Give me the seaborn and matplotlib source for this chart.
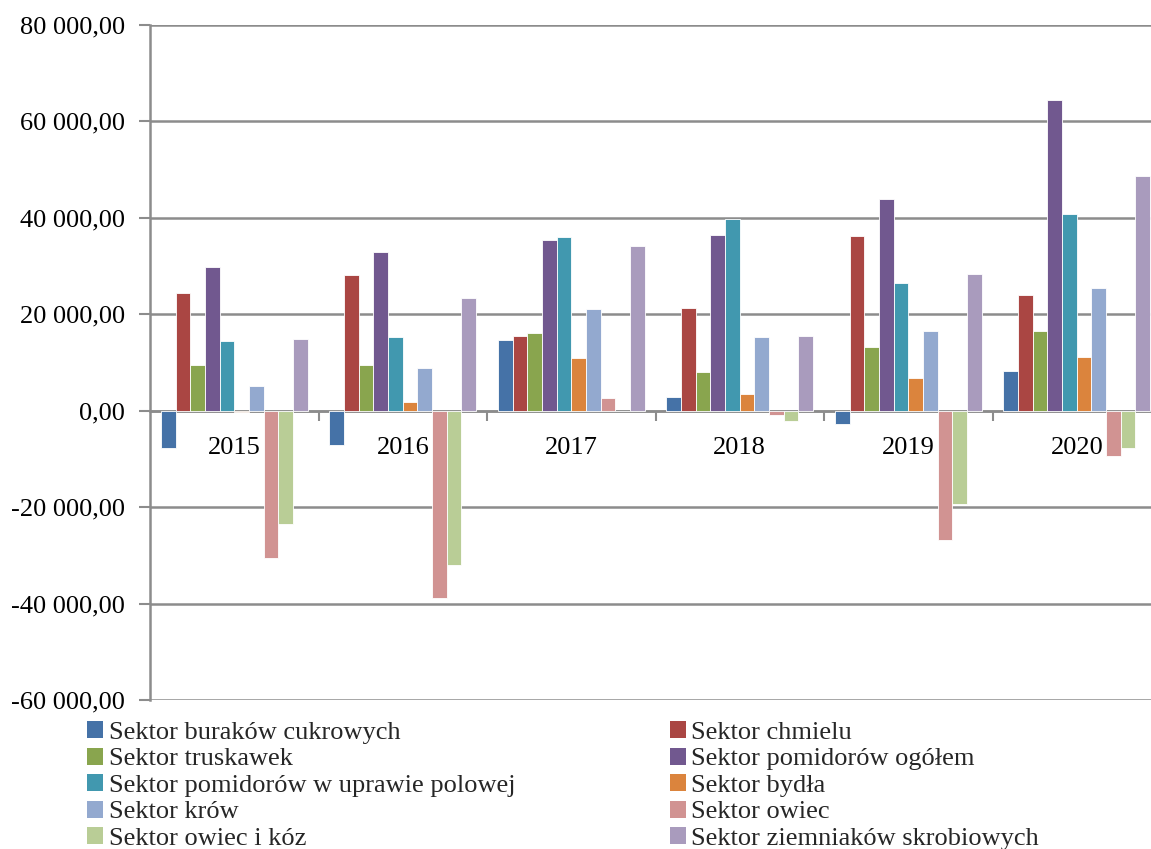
import matplotlib
matplotlib.use("Agg")
import matplotlib.pyplot as plt
import numpy as np
import pandas as pd
import seaborn as sns
from matplotlib.patches import Patch
from matplotlib.ticker import FixedLocator, FixedFormatter, FuncFormatter, NullFormatter

# --- data -------------------------------------------------------------------
years = ["2015", "2016", "2017", "2018", "2019", "2020"]

sectors = [
    "Sektor buraków cukrowych",
    "Sektor chmielu",
    "Sektor truskawek",
    "Sektor pomidorów ogółem",
    "Sektor pomidorów w uprawie polowej",
    "Sektor bydła",
    "Sektor krów",
    "Sektor owiec",
    "Sektor owiec i kóz",
    "Sektor ziemniaków skrobiowych",
]

buraki_cukrowe = [-7700, -7200, 14700, 2800, -2700, 8200]
chmiel = [24500, 28100, 15400, 21400, 36200, 24000]
truskawki = [9500, 9400, 16100, 8100, 13300, 16600]
pomidory_ogolem = [29800, 33000, 35400, 36500, 44000, 64500]
pomidory_polowe = [14500, 15200, 36000, 39800, 26400, 40900]
bydlo = [-300, 1900, 11000, 3500, 6800, 11100]
krowy = [5200, 8800, 21100, 15300, 16600, 25500]
owce = [-30600, -38800, 2600, -900, -26800, -9400]
owce_i_kozy = [-23500, -32100, 0, -2200, -19400, -7700]
ziemniaki_skrobiowe = [14800, 23400, 34200, 15500, 28400, 48600]

series = [buraki_cukrowe, chmiel, truskawki, pomidory_ogolem, pomidory_polowe,
          bydlo, krowy, owce, owce_i_kozy, ziemniaki_skrobiowe]

colors = ["#4572A7", "#AA4643", "#89A54E", "#71588F", "#4198AF",
          "#DB843D", "#93A9CF", "#D19392", "#B9CD96", "#A99BBD"]

df = pd.DataFrame(
    [(y, s, v) for s, vals in zip(sectors, series) for y, v in zip(years, vals)],
    columns=["rok", "sektor", "wartosc"],
)

# --- style ------------------------------------------------------------------
sns.set_theme(style="white")
plt.rcParams["font.family"] = ["Liberation Serif", "DejaVu Serif"]
FS = 19
GRID = "#8C8C8C"

fig = plt.figure(figsize=(11.51, 8.49), dpi=100)
ax = fig.add_axes([150 / 1151, 1 - 700 / 849, 1011 / 1151, 675 / 849])

sns.barplot(
    data=df, x="rok", y="wartosc", hue="sektor",
    order=years, hue_order=sectors, palette=colors,
    width=0.87, saturation=1, edgecolor="white", linewidth=0.6,
    ax=ax, legend=False, errorbar=None,
)

# --- axes -------------------------------------------------------------------
ax.set_ylim(-60000, 80000)
ax.set_xlim(-0.5, len(years) - 0.5)
ax.set_xlabel("")
ax.set_ylabel("")

ax.yaxis.set_major_locator(FixedLocator(np.arange(-60000, 80001, 20000)))
ax.yaxis.set_major_formatter(FuncFormatter(
    lambda v, _: f"{v:,.2f}".replace(",", " ").replace(".", ",")))
ax.tick_params(axis="y", which="major", length=8, width=1.5, color=GRID,
               direction="out", pad=10, labelsize=FS, labelcolor="black", left=True)

ax.grid(axis="y", color=GRID, linewidth=1.8)
ax.grid(axis="x", visible=False)
ax.set_axisbelow(True)

for side in ("top", "right"):
    ax.spines[side].set_visible(False)
ax.spines["left"].set_color(GRID)
ax.spines["left"].set_linewidth(1.8)
ax.spines["bottom"].set_position(("data", 0))
ax.spines["bottom"].set_color(GRID)
ax.spines["bottom"].set_linewidth(1.8)
ax.spines["bottom"].set_zorder(0.5)

# category boundaries as major ticks, year labels on minor ticks at centres
ax.xaxis.set_major_locator(FixedLocator(np.arange(0.5, len(years) - 0.5, 1)))
ax.xaxis.set_major_formatter(NullFormatter())
ax.xaxis.set_minor_locator(FixedLocator(np.arange(len(years))))
ax.xaxis.set_minor_formatter(FixedFormatter(years))
ax.tick_params(axis="x", which="major", length=7, width=1.5, color=GRID,
               direction="out", bottom=True)
ax.tick_params(axis="x", which="minor", length=0, pad=19, labelsize=FS,
               labelcolor="black", bottom=True)

# --- legend (row-wise order in two columns) ---------------------------------
handles = [Patch(facecolor=c, edgecolor="none") for c in colors]
order = list(range(0, 10, 2)) + list(range(1, 10, 2))
fig.legend(
    [handles[i] for i in order], [sectors[i] for i in order],
    ncol=2, loc="upper left", bbox_to_anchor=(87 / 1151, 1 - 721 / 849),
    frameon=False, fontsize=FS, handlelength=0.62, handleheight=0.62,
    handletextpad=0.2, labelspacing=0.14, columnspacing=5.85,
    borderpad=0, borderaxespad=0,
)

fig.savefig("out.png", dpi=100)
